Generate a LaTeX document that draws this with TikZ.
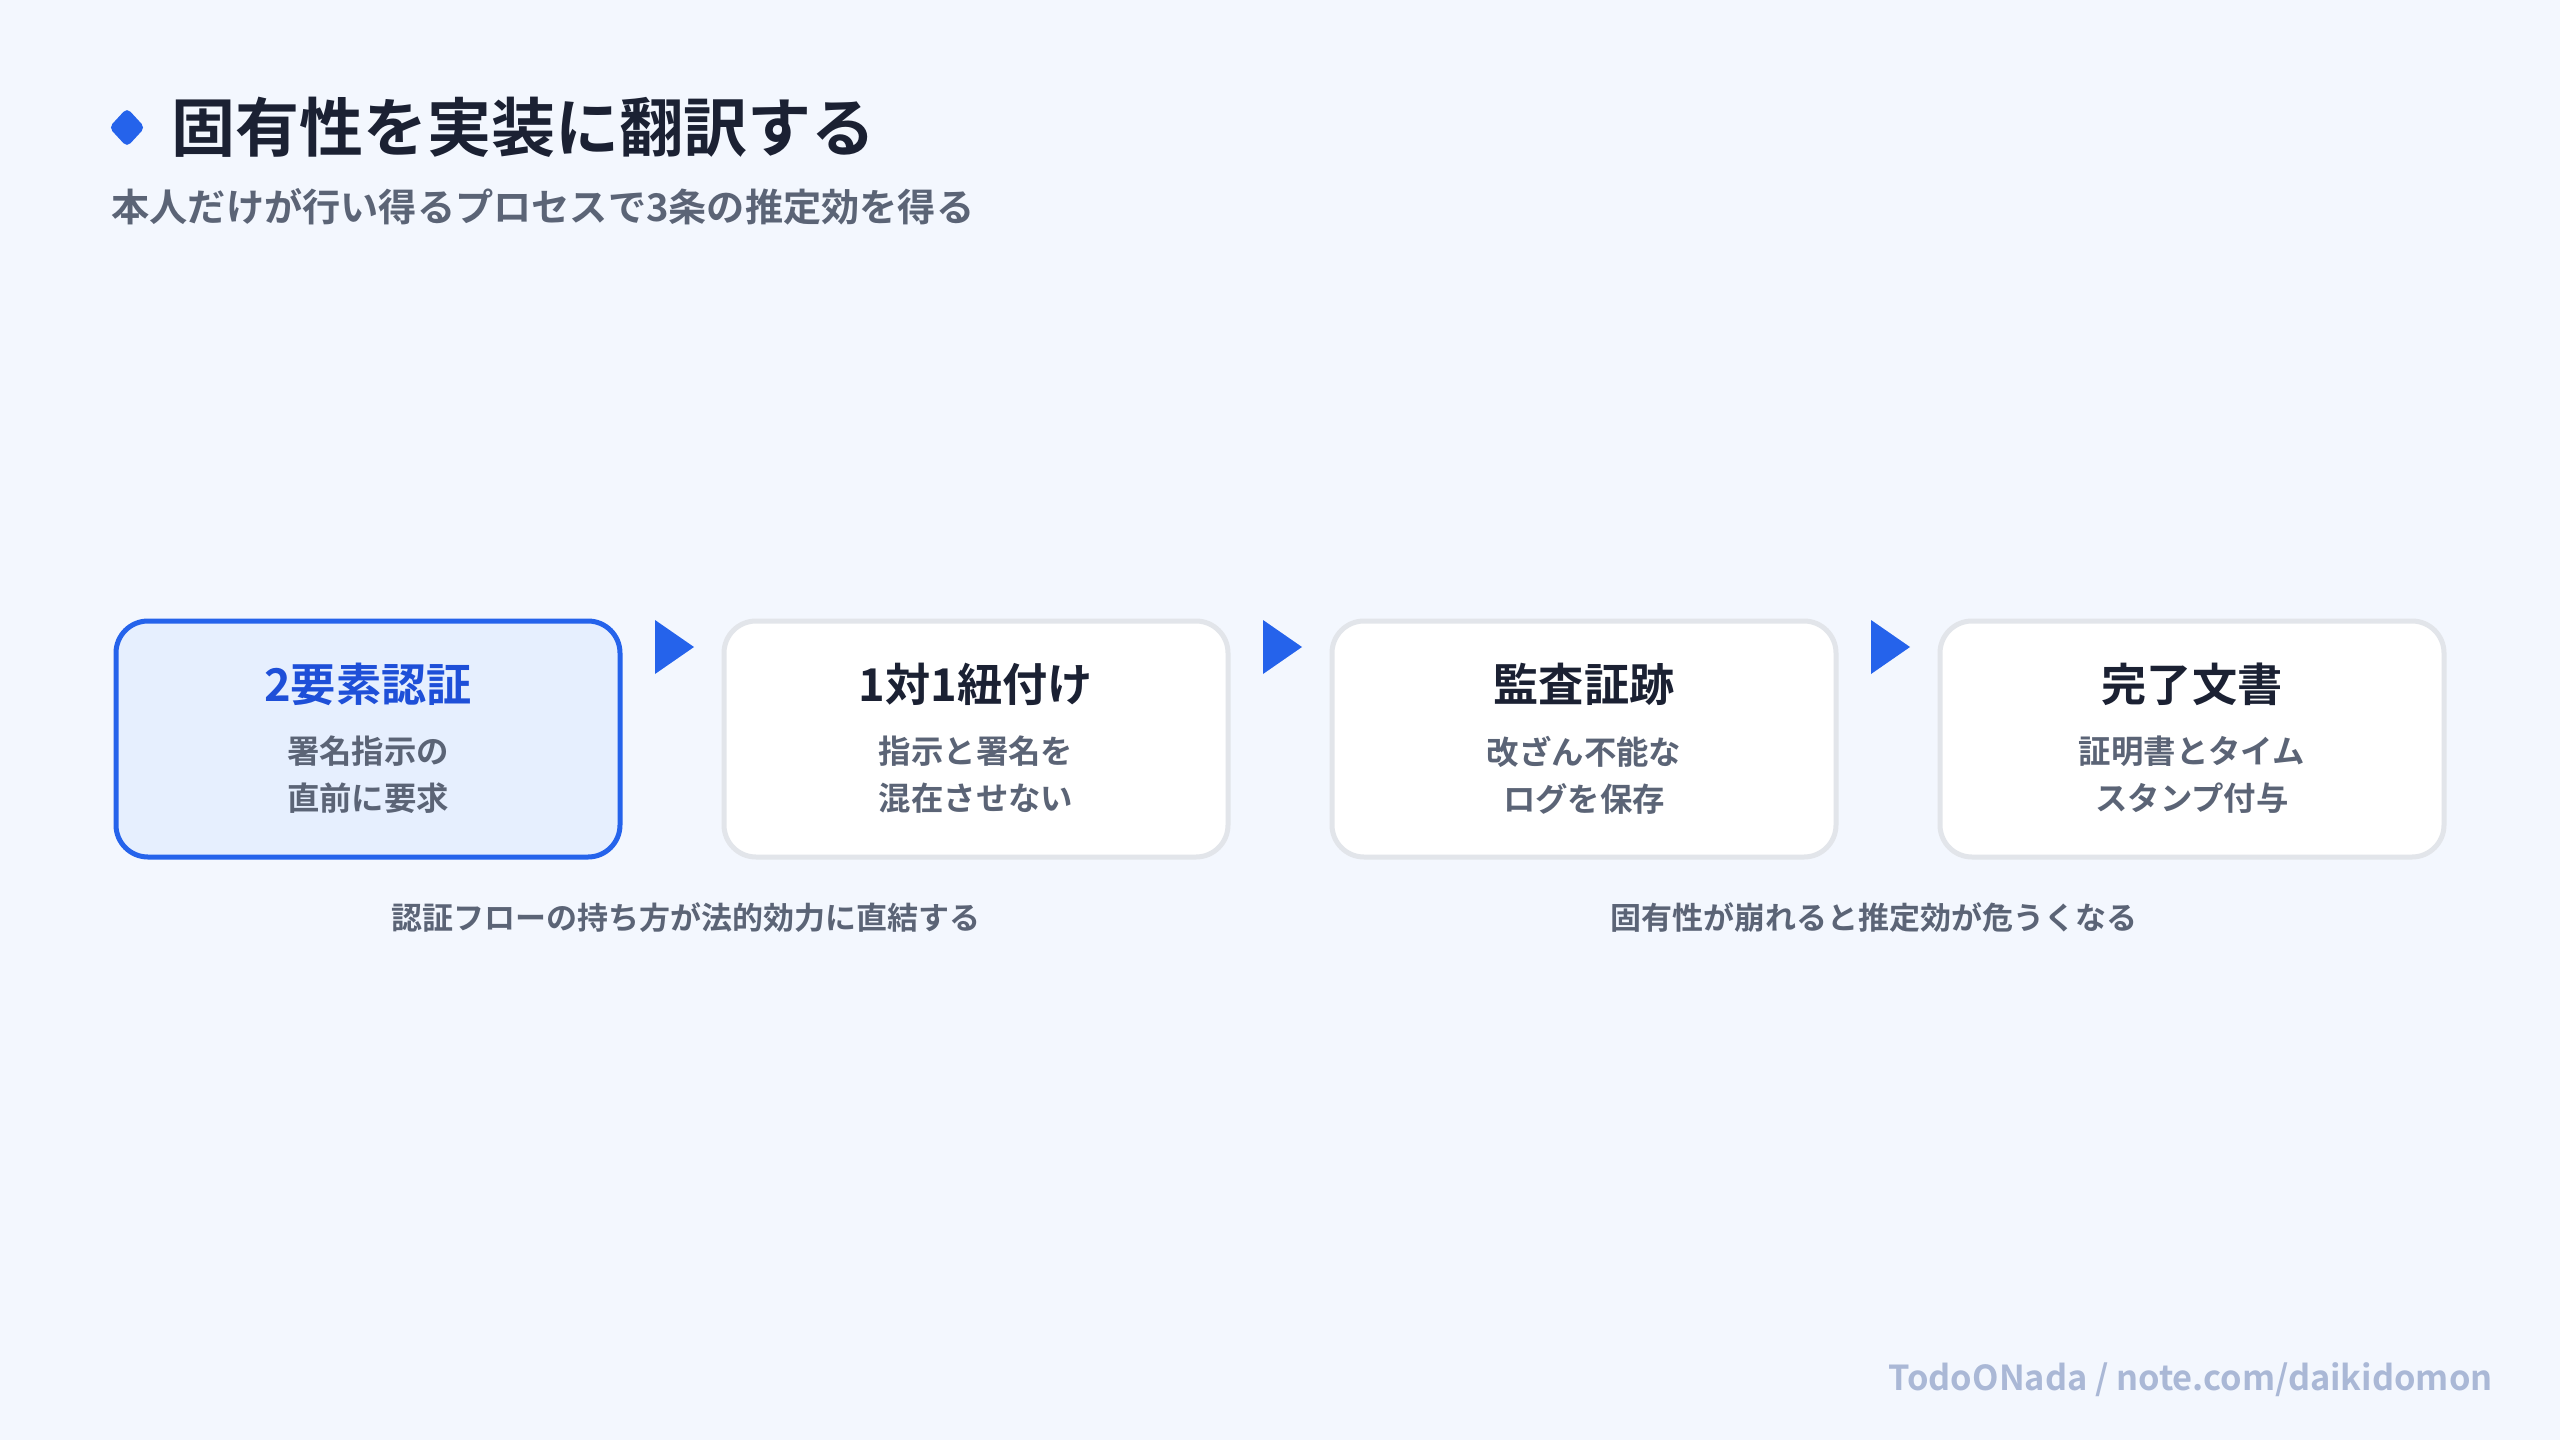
\documentclass[tikz,border=0pt]{standalone}
\usepackage{fontspec}
\setmainfont{Noto Sans CJK JP}[BoldFont={Noto Sans CJK JP Bold}]
\definecolor{bgc}{HTML}{F3F7FE}
\definecolor{accent}{HTML}{2563EB}
\definecolor{cardonefill}{HTML}{E6EFFE}
\definecolor{cardline}{HTML}{E2E5EA}
\definecolor{darktext}{HTML}{1B2133}
\definecolor{greytext}{HTML}{5B6476}
\definecolor{bluetitle}{HTML}{1E4FD8}
\definecolor{footc}{HTML}{AAB8D6}
\tikzset{
  card/.style={draw=cardline, line width=2.5pt, fill=white, rounded corners=16pt,
    minimum width=252pt, minimum height=118pt, inner sep=0pt},
  cardact/.style={card, draw=accent, fill=cardonefill},
  cardtitle/.style={inner sep=0pt, text=darktext, font=\fontsize{22.6pt}{27pt}\selectfont\bfseries},
  carddesc/.style={inner sep=0pt, text=greytext, align=center, font=\fontsize{16.2pt}{23.5pt}\selectfont\bfseries},
  notetext/.style={inner sep=0pt, text=greytext, font=\fontsize{15.5pt}{18pt}\selectfont\bfseries},
  arrowtri/.style={fill=accent},
}
\begin{document}
\begin{tikzpicture}[x=0.5pt,y=-0.5pt]
\fill[bgc] (0,0) rectangle (2560,1440);
\useasboundingbox (0,0) rectangle (2560,1440);
% header
\fill[accent, rounded corners=2.5pt] (127,108) -- (145,127.5) -- (127,147) -- (109,127.5) -- cycle;
\node[anchor=west, inner sep=0pt, text=darktext, font=\fontsize{32pt}{36pt}\selectfont\bfseries] (title) at (171,127) {固有性を実装に翻訳する};
\node[anchor=west, inner sep=0pt, text=greytext, font=\fontsize{19.1pt}{22pt}\selectfont\bfseries] (subtitle) at (111,207) {本人だけが行い得るプロセスで3条の推定効を得る};
% cards
\node[cardact] (c1) at (368,739) {};
\node[card] (c2) at (976,739) {};
\node[card] (c3) at (1584,739) {};
\node[card] (c4) at (2192,739) {};
\node[cardtitle, text=bluetitle] (t1) at ([yshift=27.5pt]c1.center) {2要素認証};
\node[cardtitle] (t2) at ([yshift=27.5pt]c2.center) {1対1紐付け};
\node[cardtitle] (t3) at ([yshift=27.5pt]c3.center) {監査証跡};
\node[cardtitle] (t4) at ([yshift=27.5pt]c4.center) {完了文書};
\node[carddesc] (d1) at ([yshift=-18pt]c1.center) {署名指示の\\直前に要求};
\node[carddesc] (d2) at ([yshift=-18pt]c2.center) {指示と署名を\\混在させない};
\node[carddesc] (d3) at ([yshift=-18pt]c3.center) {改ざん不能な\\ログを保存};
\node[carddesc] (d4) at ([yshift=-18pt]c4.center) {証明書とタイム\\スタンプ付与};
% arrows
\fill[arrowtri] (655,620) -- (694,647) -- (655,674) -- cycle;
\fill[arrowtri] (1263,620) -- (1302,647) -- (1263,674) -- cycle;
\fill[arrowtri] (1871,620) -- (1910,647) -- (1871,674) -- cycle;
% notes
\node[notetext] (n1) at (686,918) {認証フローの持ち方が法的効力に直結する};
\node[notetext] (n2) at (1874,918) {固有性が崩れると推定効が危うくなる};
% footer
\node[anchor=east, inner sep=0pt, text=footc, font=\fontsize{17.2pt}{20pt}\selectfont\bfseries] (foot) at (2493,1380) {TodoONada / note.com/daikidomon};
\end{tikzpicture}
\end{document}
